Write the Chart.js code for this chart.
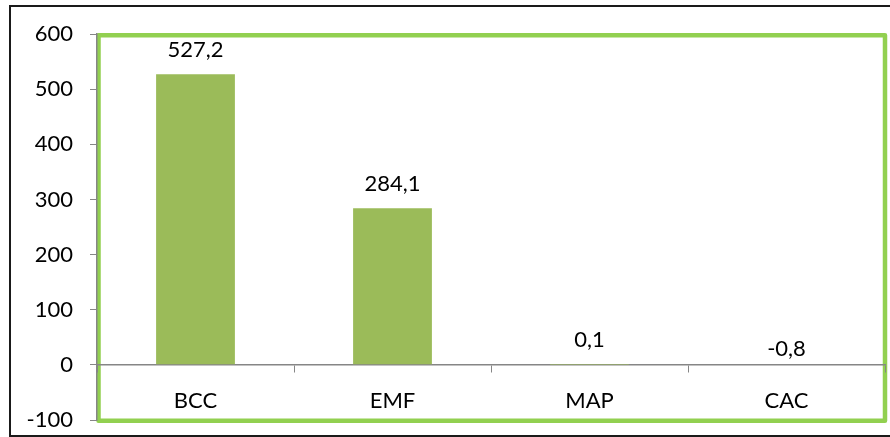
<!DOCTYPE html>
<html>
<head>
<meta charset="utf-8">
<script src="https://cdn.jsdelivr.net/npm/chart.js@4"></script>
<style>
  html, body { margin: 0; padding: 0; background: #ffffff; }
  #wrap { width: 890px; height: 437px; position: relative; }
</style>
</head>
<body>
<div id="wrap"><canvas id="chart" width="890" height="437"></canvas></div>
<script>
// Categories and values
const categories = ['BCC', 'EMF', 'MAP', 'CAC'];
const values = [527.2, 284.1, 0.1, -0.8];
const yTicks = [-100, 0, 100, 200, 300, 400, 500, 600];

const BAR_COLOR = '#9BBB59';
const FRAME_GREEN = '#92D050';
const AXIS_GRAY = '#868686';
const FONT = 'Lato';
const FONT_SIZE = 22;

const fmt = v => v.toFixed(1).replace('.', ',');

// Outer frame and green plot-area border, drawn beneath the axes
const framePlugin = {
  id: 'frames',
  beforeDraw(chart) {
    const ctx = chart.ctx;
    const a = chart.chartArea;
    ctx.save();
    ctx.strokeStyle = '#1a1a1a';
    ctx.lineWidth = 2;
    ctx.beginPath();
    ctx.moveTo(900, 6);
    ctx.lineTo(10, 6);
    ctx.lineTo(10, 436);
    ctx.lineTo(900, 436);
    ctx.stroke();

    ctx.strokeStyle = FRAME_GREEN;
    ctx.lineWidth = 4.5;
    ctx.lineJoin = 'round';
    ctx.strokeRect(a.left + 1.5, a.top + 1.3, a.right - a.left - 1.5, a.bottom - a.top - 0.5);
    ctx.restore();
  }
};

// Value labels above each bar end
const valueLabels = {
  id: 'valueLabels',
  afterDatasetsDraw(chart) {
    const ctx = chart.ctx;
    const meta = chart.getDatasetMeta(0);
    const yScale = chart.scales.y;
    ctx.save();
    ctx.font = FONT_SIZE + 'px ' + FONT;
    ctx.fillStyle = '#000000';
    ctx.textAlign = 'center';
    ctx.textBaseline = 'alphabetic';
    meta.data.forEach((bar, i) => {
      const v = values[i];
      const end = yScale.getPixelForValue(v);
      const zero = yScale.getPixelForValue(0);
      const base = Math.min(end, zero);
      const gap = v >= 0 ? 17.5 : 8.5;
      ctx.fillText(fmt(v), bar.x, base - gap);
    });
    ctx.restore();
  }
};

new Chart(document.getElementById('chart'), {
  type: 'bar',
  data: {
    labels: categories,
    datasets: [{
      data: values,
      backgroundColor: BAR_COLOR,
      borderWidth: 0,
      barPercentage: 0.4,
      categoryPercentage: 1.0
    }]
  },
  options: {
    responsive: false,
    animation: false,
    devicePixelRatio: 1,
    layout: { padding: { top: 34, right: 5, bottom: 17, left: 0 } },
    plugins: {
      legend: { display: false },
      title: { display: false },
      tooltip: { enabled: false }
    },
    scales: {
      x: {
        position: { y: 0 },
        afterFit(scale) { scale.height = 0; },
        grid: {
          display: true,
          drawOnChartArea: false,
          drawTicks: true,
          tickLength: 7,
          color: AXIS_GRAY,
          offset: true
        },
        border: { display: true, color: AXIS_GRAY, width: 1.5 },
        ticks: {
          color: '#000000',
          font: { family: FONT, size: FONT_SIZE },
          padding: 16,
          maxRotation: 0
        }
      },
      y: {
        min: -100,
        max: 600,
        afterBuildTicks(scale) { scale.ticks = yTicks.map(v => ({ value: v })); },
        afterFit(scale) {
          scale.width = 97;
          scale.paddingTop = 0;
          scale.paddingBottom = 0;
        },
        grid: {
          display: true,
          drawOnChartArea: false,
          drawTicks: true,
          tickLength: 7,
          color: AXIS_GRAY
        },
        border: { display: true, color: AXIS_GRAY, width: 1.5 },
        ticks: {
          color: '#000000',
          font: { family: FONT, size: FONT_SIZE },
          padding: 17
        }
      }
    }
  },
  plugins: [framePlugin, valueLabels]
});
</script>
</body>
</html>
